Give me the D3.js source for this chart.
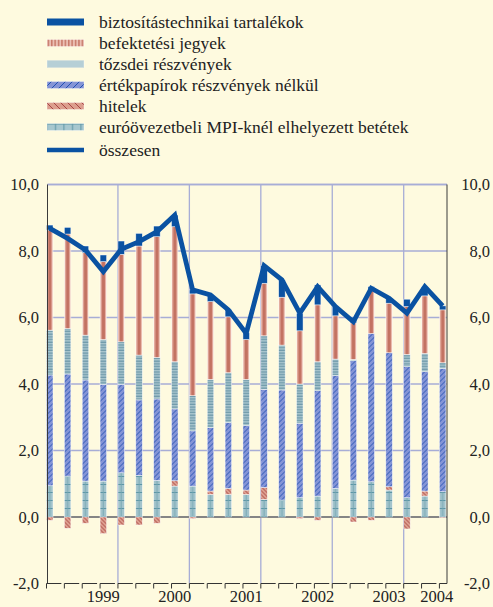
<!DOCTYPE html>
<html><head><meta charset="utf-8">
<script src="https://cdn.jsdelivr.net/npm/d3@7"></script>
<style>
html,body{margin:0;padding:0;background:#FEFADF;}
svg{display:block;}
text{font-family:"Liberation Serif","Times New Roman","Tinos","DejaVu Serif","Noto Serif",serif;fill:#222;}
</style></head><body>
<svg id="c" width="493" height="607"></svg>
<script>
// ---- data (quarters 1999 Q1 – 2004 Q3) ----
const categories = ["1999 I.","1999 II.","1999 III.","1999 IV.","2000 I.","2000 II.","2000 III.","2000 IV.",
  "2001 I.","2001 II.","2001 III.","2001 IV.","2002 I.","2002 II.","2002 III.","2002 IV.",
  "2003 I.","2003 II.","2003 III.","2003 IV.","2004 I.","2004 II.","2004 III."];
const biztositas = [0.15,0.20,0.20,0.20,0.40,0.38,0.32,0.35,0.12,0.20,0.22,0.20,0.53,0.52,0.53,0.60,0.28,0.17,0.10,0.15,0.22,0.28,0.12];
const befektetesi = [3.01,2.84,2.48,2.34,2.63,3.28,3.63,4.06,3.06,2.34,1.68,1.20,1.58,1.44,1.60,1.71,1.30,1.10,1.31,1.49,1.44,1.73,1.59];
const tozsdei = [1.35,1.37,1.35,1.35,1.28,1.35,1.25,1.42,1.06,1.45,1.50,1.39,1.61,1.35,1.18,0.87,0.50,0.04,0.00,0.00,0.37,0.55,0.17];
const ertekpapirok = [3.33,3.07,3.04,2.91,2.66,2.27,2.45,2.16,1.66,1.91,1.98,1.94,2.95,3.31,2.24,3.17,3.39,3.59,4.46,4.03,3.94,3.59,3.71];
const hitelek = [-0.10,-0.34,-0.19,-0.50,-0.24,-0.24,-0.19,0.16,-0.05,0.10,0.18,0.13,0.36,0.00,-0.05,-0.10,0.00,-0.15,-0.10,0.10,-0.36,0.15,-0.02];
const mpiBetetek = [0.94,1.23,1.08,1.08,1.33,1.25,1.10,0.93,0.93,0.68,0.68,0.68,0.53,0.51,0.58,0.63,0.86,1.11,1.06,0.81,0.58,0.63,0.76];
const osszesen = [8.68,8.38,8.03,7.38,8.05,8.28,8.58,9.08,6.83,6.68,6.23,5.52,7.56,7.13,6.13,6.93,6.33,5.87,6.88,6.58,6.13,6.93,6.35];
const yTicks = [-2,0,2,4,6,8,10];
const yearLabels = ["1999","2000","2001","2002","2003","2004"];
const yearLabelAt = [3,7,11,15,19,22];
const legendNames = ["biztosítástechnikai tartalékok","befektetési jegyek","tőzsdei részvények",
  "értékpapírok részvények nélkül","hitelek","euróövezetbeli MPI-knél elhelyezett betétek","összesen"];

// ---- layout ----
const svg = d3.select("#c");
const L = 47.5, R = 447, T = 184.5, B = 583.5;
const step = 17.86, barW = 6.5, x0 = 46.5;
const x = d3.scaleBand().domain(categories).range([x0, x0 + step*categories.length]).padding(0);
const y = d3.scaleLinear().domain([-2,10]).range([B,T]);
const fmt = v => d3.format(".1f")(v).replace(".",",").replace("−","-");

// ---- patterns ----
const defs = svg.append("defs");
function pat(id, w, h, draw, px){
  const p = defs.append("pattern").attr("id",id).attr("patternUnits","userSpaceOnUse")
    .attr("width",w).attr("height",h).attr("x",px||0).attr("y",0);
  draw(p); return p;
}
pat("bef", step, 10, p=>{
  p.append("rect").attr("width",barW).attr("height",10).attr("fill","#E8B5A8");
  p.append("rect").attr("x",1.6).attr("width",3.3).attr("height",10).attr("fill","#C37262");
}, x0);
pat("tozs", step, 2.7, p=>{
  p.append("rect").attr("width",step).attr("height",2.7).attr("fill","#A9C6CE");
  p.append("rect").attr("y",1.4).attr("width",step).attr("height",1.3).attr("fill","#6F9AAA");
}, x0);
pat("ert", 5, 5, p=>{
  p.append("rect").attr("width",5).attr("height",5).attr("fill","#8494D6");
  p.append("path").attr("d","M0,5 L5,0 M-1,1 L1,-1 M4,6 L6,4").attr("stroke","#2250B2").attr("stroke-width",0.9);
}, x0);
pat("hit", 4, 4, p=>{
  p.append("rect").attr("width",4).attr("height",4).attr("fill","#DC9E8E");
  p.append("path").attr("d","M0,0 L4,4 M-1,3 L1,5 M3,-1 L5,1").attr("stroke","#A84444").attr("stroke-width",0.9);
}, x0);
pat("mpi", step, 8, p=>{
  p.append("rect").attr("width",step).attr("height",8).attr("fill","#A2C3CB");
  p.append("rect").attr("y",4).attr("width",step).attr("height",1).attr("fill","#5C96A6");
  p.append("rect").attr("x",barW/2-0.5).attr("width",0.9).attr("height",8).attr("fill","#74A6B2");
}, x0);
pat("lbef", 3.4, 8, p=>{
  p.append("rect").attr("width",3.4).attr("height",8).attr("fill","#EBC0B4");
  p.append("rect").attr("width",1.5).attr("height",8).attr("fill","#C87A6A");
});
pat("ltozs", 8, 8, p=>{
  p.append("rect").attr("width",8).attr("height",8).attr("fill","#B6CFD6");
  p.append("rect").attr("y",3).attr("width",8).attr("height",2).attr("fill","#7BA4B2");
});
pat("lert", 7, 7, p=>{
  p.append("rect").attr("width",7).attr("height",7).attr("fill","#8494D6");
  p.append("path").attr("d","M0,7 L7,0 M-1,1 L1,-1 M6,8 L8,6").attr("stroke","#2250B2").attr("stroke-width",1);
});
pat("lhit", 7, 7, p=>{
  p.append("rect").attr("width",7).attr("height",7).attr("fill","#DC9E8E");
  p.append("path").attr("d","M0,0 L7,7 M-1,6 L1,8 M6,-1 L8,1").attr("stroke","#A84444").attr("stroke-width",1);
});
pat("lmpi", 8.5, 8, p=>{
  p.append("rect").attr("width",8.5).attr("height",8).attr("fill","#A7C7CF");
  p.append("rect").attr("y",3.5).attr("width",8.5).attr("height",1).attr("fill","#5C96A6");
  p.append("rect").attr("x",4).attr("width",1).attr("height",8).attr("fill","#5C96A6");
});

// ---- grid ----
const grid = svg.append("g");
grid.selectAll("line.h").data(yTicks.filter(v=>v>0)).join("line")
  .attr("x1",L).attr("x2",R).attr("y1",d=>y(d)).attr("y2",d=>y(d))
  .attr("stroke","#A7ADD6").attr("stroke-width",1.3);
grid.selectAll("line.v").data(categories.filter((c,i)=>i>0 && i%4===0)).join("line")
  .attr("x1",d=>x(d)).attr("x2",d=>x(d)).attr("y1",T).attr("y2",B)
  .attr("stroke","#A7ADD6").attr("stroke-width",1.3);
svg.append("line").attr("x1",L).attr("x2",R).attr("y1",y(0)).attr("y2",y(0))
  .attr("stroke","#858585").attr("stroke-width",2);

// ---- stacked bars ----
const keys = ["mpi","hit","ert","tozs","bef","biz"];
const rows = categories.map((c,i)=>({cat:c, mpi:mpiBetetek[i], hit:hitelek[i], ert:ertekpapirok[i],
  tozs:tozsdei[i], bef:befektetesi[i], biz:biztositas[i]}));
const stack = d3.stack().keys(keys).offset(d3.stackOffsetDiverging)(rows);
const fills = {mpi:"url(#mpi)",hit:"url(#hit)",ert:"url(#ert)",tozs:"url(#tozs)",bef:"url(#bef)",biz:"#0A52A2"};
svg.append("g").selectAll("g").data(stack).join("g")
  .attr("fill",s=>fills[s.key])
  .selectAll("rect").data(s=>s.filter(d=>Math.abs(d[1]-d[0])>0.001)).join("rect")
  .attr("x",d=>x(d.data.cat)).attr("width",barW)
  .attr("y",d=>y(Math.max(d[0],d[1]))).attr("height",d=>Math.abs(y(d[0])-y(d[1])))
  .attr("stroke","rgba(255,255,255,0.75)").attr("stroke-width",0.6);

// ---- frame ----
svg.append("line").attr("x1",L).attr("x2",R).attr("y1",T).attr("y2",T).attr("stroke","#A7ADD6").attr("stroke-width",1.3);
svg.append("line").attr("x1",L).attr("x2",L).attr("y1",T).attr("y2",B).attr("stroke","#3a3a3a").attr("stroke-width",1);
svg.append("line").attr("x1",R).attr("x2",R).attr("y1",T).attr("y2",B).attr("stroke","#3a3a3a").attr("stroke-width",1);
svg.append("g").selectAll("path").data(categories).join("path")
  .attr("d",(d,i)=>{const a=x(d), b=Math.min(a+step-3, R); return `M${a},${B+5}V${B}H${b}`;})
  .attr("fill","none").attr("stroke","#333").attr("stroke-width",1);

// ---- total line ----
svg.append("path").datum(osszesen)
  .attr("d",d3.line().x((d,i)=>x(categories[i])+barW/2).y(d=>y(d)))
  .attr("fill","none").attr("stroke","#0A52A2").attr("stroke-width",4.8).attr("stroke-linejoin","miter");

// ---- axes labels ----
const lab = svg.append("g").attr("font-size","16.5px");
lab.selectAll("text.l").data(yTicks).join("text")
  .attr("x",39).attr("y",d=>y(d)).attr("dy","0.35em").attr("text-anchor","end").text(fmt);
lab.selectAll("text.r").data(yTicks).join("text")
  .attr("x",490).attr("y",d=>y(d)).attr("dy","0.35em").attr("text-anchor","end").text(fmt);
lab.selectAll("text.yr").data(yearLabels).join("text")
  .attr("x",(d,i)=>x(categories[yearLabelAt[i]])+barW/2 - (i===yearLabels.length-1?6:0))
  .attr("y",602).attr("text-anchor","middle").text(d=>d);

// ---- legend ----
const lg = svg.append("g");
const rowY = [22,43,64,85,106,127,150];
const lf = ["#0A52A2","url(#lbef)","url(#ltozs)","url(#lert)","url(#lhit)","url(#lmpi)","#0A52A2"];
legendNames.forEach((n,i)=>{
  const h = i===6 ? 4.5 : 7;
  lg.append("rect").attr("x",47).attr("y",rowY[i]-h/2).attr("width",37).attr("height",h).attr("fill",lf[i])
    .attr("stroke", i===0||i===6 ? "none" : "rgba(255,255,255,0.6)").attr("stroke-width",0.6);
  lg.append("text").attr("x",99).attr("y",rowY[i]).attr("dy","0.33em").attr("font-size","17.5px").text(n);
});
</script>
</body></html>
